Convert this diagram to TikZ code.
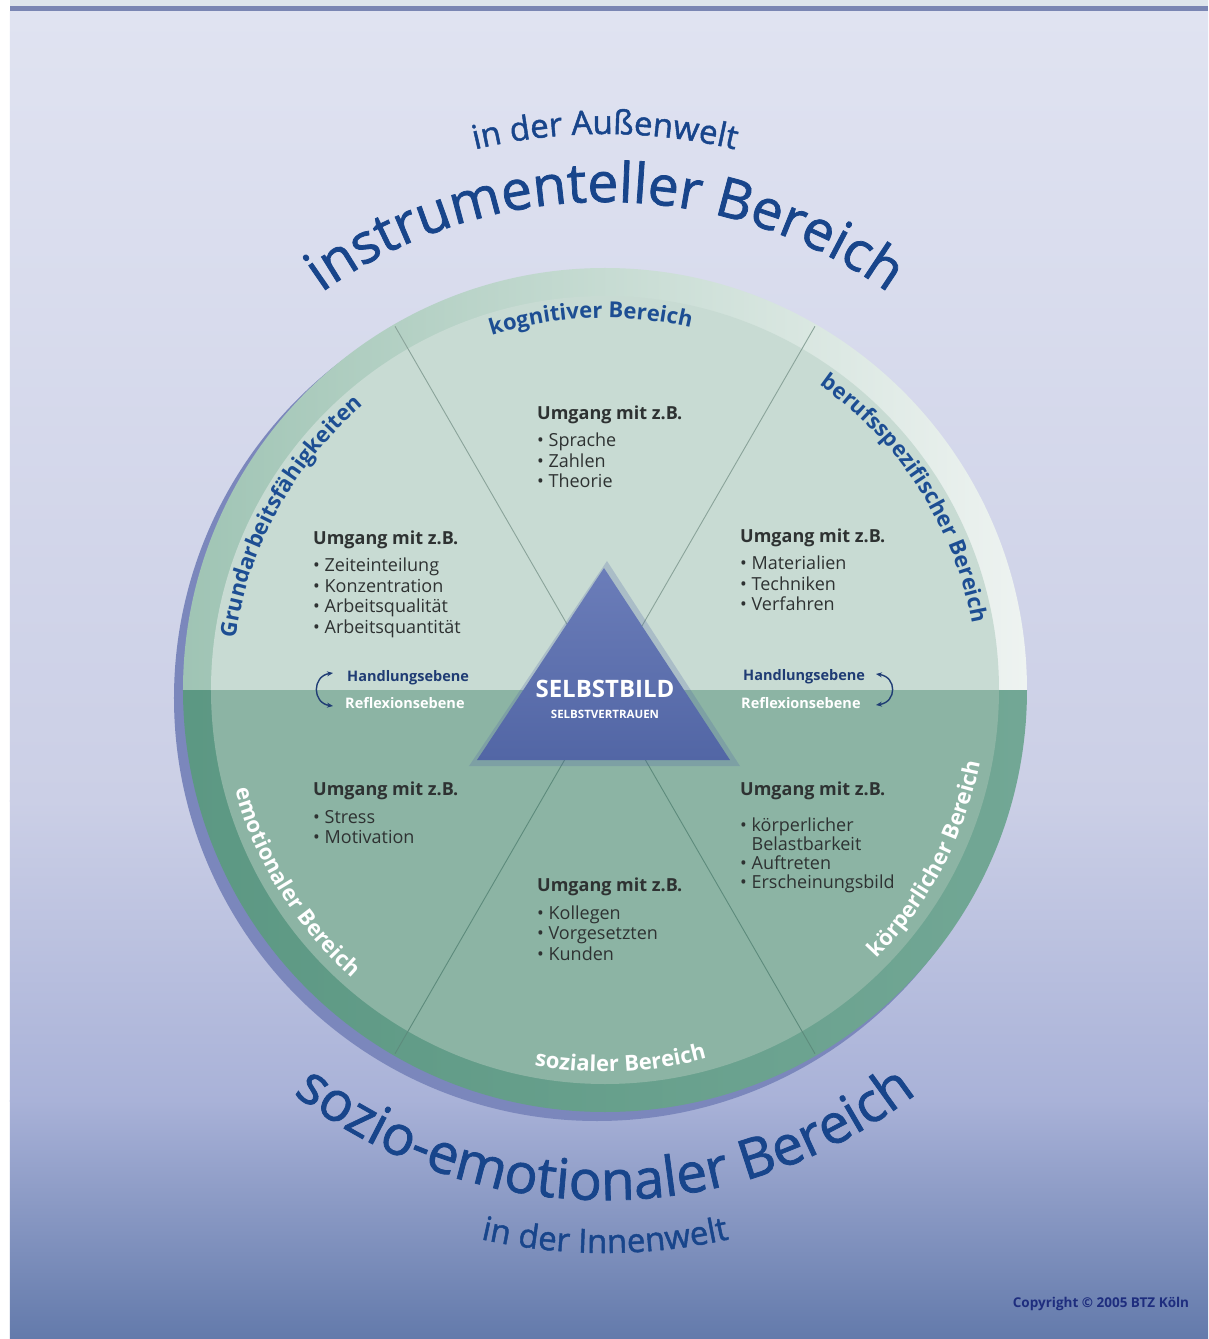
\documentclass[tikz,border=0pt]{standalone}
\usepackage{fontspec}
\setmainfont{Open Sans}
\newfontfamily\bigfamily[FakeBold=1.4]{Open Sans}
\usetikzlibrary{arrows.meta,decorations.text}

\definecolor{bgtop}{HTML}{E0E3F1}
\definecolor{bgmid}{HTML}{CBCFE6}
\definecolor{bglow}{HTML}{A9B2D8}
\definecolor{bgbot}{HTML}{637AAB}
\definecolor{bandlight}{HTML}{DEE5EC}
\definecolor{bandblue}{HTML}{7A86B3}
\definecolor{shadowblue}{HTML}{7B87BC}
\definecolor{rimleft}{HTML}{9FC4B4}
\definecolor{rimright}{HTML}{EEF3F1}
\definecolor{upperfill}{HTML}{C8DBD3}
\definecolor{lowrimleft}{HTML}{5C9883}
\definecolor{lowrimright}{HTML}{72A795}
\definecolor{lowerfill}{HTML}{8CB4A4}
\definecolor{lineup}{HTML}{8AA39A}
\definecolor{linelow}{HTML}{5D8B7C}
\definecolor{triTop}{HTML}{6B7DB9}
\definecolor{triBot}{HTML}{5266A5}
\definecolor{titleblue}{HTML}{18458B}
\definecolor{ringblue}{HTML}{1D4E93}
\definecolor{ebeneblue}{HTML}{1F3C74}
\definecolor{itemgray}{HTML}{2E3232}
\definecolor{copyblue}{HTML}{1E2D7E}

\newcommand{\ringfont}{\fontsize{22}{26}\selectfont\bfseries}
\newcommand{\bigfont}{\bigfamily\fontsize{55}{60}\selectfont}
\newcommand{\midfont}{\bigfamily\fontsize{33}{38}\selectfont}
\newcommand{\umgangmit}[2]{\begin{tabular}[t]{@{}l@{}}\textbf{Umgang mit z.B.}\\[#1]#2\end{tabular}}

\tikzset{
  ringtext/.style={decorate, decoration={text along path, text align=center, text color=ringblue, text={|\ringfont|#1}}},
  ringtextw/.style={decorate, decoration={text along path, text align=center, text color=white, text={|\ringfont|#1}}},
  bigtext/.style={decorate, decoration={text along path, text align=center, text color=titleblue, text={|\bigfont|#1}}},
  midtext/.style={decorate, decoration={text along path, text align=center, text color=titleblue, text={|\midfont|#1}}},
  umgang/.style={anchor=base west, inner sep=0pt, text=itemgray, font=\fontsize{18}{20.5}\selectfont},
  hlabel/.style={anchor=base west, inner sep=0pt, font=\fontsize{14.5}{17}\selectfont\bfseries},
  ebenepfeil/.style={draw=ebeneblue, line width=1.4pt, {Stealth[length=6pt,width=5pt]}-{Stealth[length=6pt,width=5pt]}},
}

\begin{document}
\begin{tikzpicture}[x=1pt,y=1pt]
\useasboundingbox (-605,-649) rectangle (603,690);
% background
\fill[white] (-605,-649) rectangle (603,690);
\fill[bandlight] (-595,683.5) rectangle (603,690);
\fill[bandblue] (-595,678.5) rectangle (603,684);
\shade[top color=bgtop,bottom color=bgmid] (-595,-111) rectangle (603,678.5);
\shade[top color=bgmid,bottom color=bglow] (-595,-411) rectangle (603,-110);
\shade[top color=bglow,bottom color=bgbot] (-595,-649) rectangle (603,-410);

% wheel
\coordinate (ctr) at (0,0);
\fill[shadowblue] (-8,-8) circle[radius=423];
\shade[left color=rimleft,right color=rimright] (-422,0) arc[start angle=180,end angle=0,radius=422] -- cycle;
\fill[upperfill] (-394,0) arc[start angle=180,end angle=0,radius=394] -- cycle;
\shade[left color=lowrimleft,right color=lowrimright] (422,0) arc[start angle=0,end angle=-180,radius=422] -- cycle;
\fill[lowerfill] (394,0) arc[start angle=0,end angle=-180,radius=394] -- cycle;
\draw[lineup, line width=0.9pt] (ctr) -- (60:420) (ctr) -- (120:420);
\draw[linelow, line width=0.9pt] (ctr) -- (240:420) (ctr) -- (300:420);

% triangle
\coordinate (apex) at (-1,122);
\coordinate (bl) at (-128,-70);
\coordinate (br) at (125,-70);
\fill[triBot, opacity=0.25] (2,129) -- (-136,-76) -- (135,-76) -- cycle;
\shade[top color=triTop,bottom color=triBot] (apex) -- (bl) -- (br) -- cycle;
\node[text=white, font=\fontsize{24}{28}\selectfont\bfseries] (selbst) at (0,1.5) {SELBSTBILD};
\node[text=white, font=\fontsize{11.5}{13}\selectfont\bfseries] (vertrauen) at (0,-24) {SELBSTVERTRAUEN};

% labels on the ring
\path[ringtext={kognitiver Bereich}] (132.2:372) arc[start angle=132.2,end angle=52.2,radius=372];
\path[ringtext={Grundarbeitsfähigkeiten}] (196.2:373) arc[start angle=196.2,end angle=106.2,radius=373];
\path[ringtext={berufsspezifischer Bereich}] (77.6:373) arc[start angle=77.6,end angle=-12.4,radius=373];
\path[ringtextw={emotionaler Bereich}] (171.9:383) arc[start angle=171.9,end angle=251.9,radius=383];
\path[ringtextw={sozialer Bereich}] (232.4:382) arc[start angle=232.4,end angle=312.4,radius=382];
\path[ringtextw={körperlicher Bereich}] (-67.8:382) arc[start angle=-67.8,end angle=12.2,radius=382];

% outer titles
\path[midtext={in der Außenwelt}] (120:556) arc[start angle=120,end angle=60,radius=556];
\path[bigtext={instrumenteller Bereich}] (150:488) arc[start angle=150,end angle=30,radius=488];
\path[bigtext={sozio-emotionaler Bereich}] (210:510) arc[start angle=210,end angle=330,radius=510];
\path[midtext={in der Innenwelt}] (240:563) arc[start angle=240,end angle=300,radius=563];

% Umgang mit
\node[umgang] (kogn) at (-68,270) {\umgangmit{6.5pt}{• Sprache\\ • Zahlen\\ • Theorie}};
\node[umgang] (grund) at (-292,145) {\umgangmit{6.5pt}{• Zeiteinteilung\\ • Konzentration\\ • Arbeitsqualität\\ • Arbeitsquantität}};
\node[umgang] (beruf) at (135,147) {\umgangmit{6.5pt}{• Materialien\\ • Techniken\\ • Verfahren}};
\node[umgang] (emot) at (-292,-105) {\umgangmit{7.5pt}{• Stress\\ • Motivation}};
\node[umgang, font=\fontsize{18}{17.7}\selectfont] (koerp) at (135,-105) {\umgangmit{17.3pt}{• körperlicher\\ \hphantom{•} Belastbarkeit\\ • Auftreten\\ • Erscheinungsbild}};
\node[umgang] (sozial) at (-68,-201) {\umgangmit{7.5pt}{• Kollegen\\ • Vorgesetzten\\ • Kunden}};

% Handlungsebene / Reflexionsebene
\node[hlabel, text=ebeneblue] (handL) at (-258,9) {Handlungsebene};
\node[hlabel, text=white] (reflL) at (-260,-18) {Reflexionsebene};
\node[hlabel, text=ebeneblue] (handR) at (138,10) {Handlungsebene};
\node[hlabel, text=white] (reflR) at (136,-18) {Reflexionsebene};
\coordinate (aLt) at (-272,17);
\coordinate (aLb) at (-272,-16);
\coordinate (aRt) at (271,16);
\coordinate (aRb) at (271,-15);
\draw[ebenepfeil] (aLt) .. controls (-293,14) and (-293,-13) .. (aLb);
\draw[ebenepfeil] (aRt) .. controls (292,13) and (292,-12) .. (aRb);

\node[text=copyblue, font=\fontsize{13.5}{16}\selectfont\bfseries] (copyr) at (496,-614) {Copyright © 2005 BTZ Köln};
\end{tikzpicture}
\end{document}
